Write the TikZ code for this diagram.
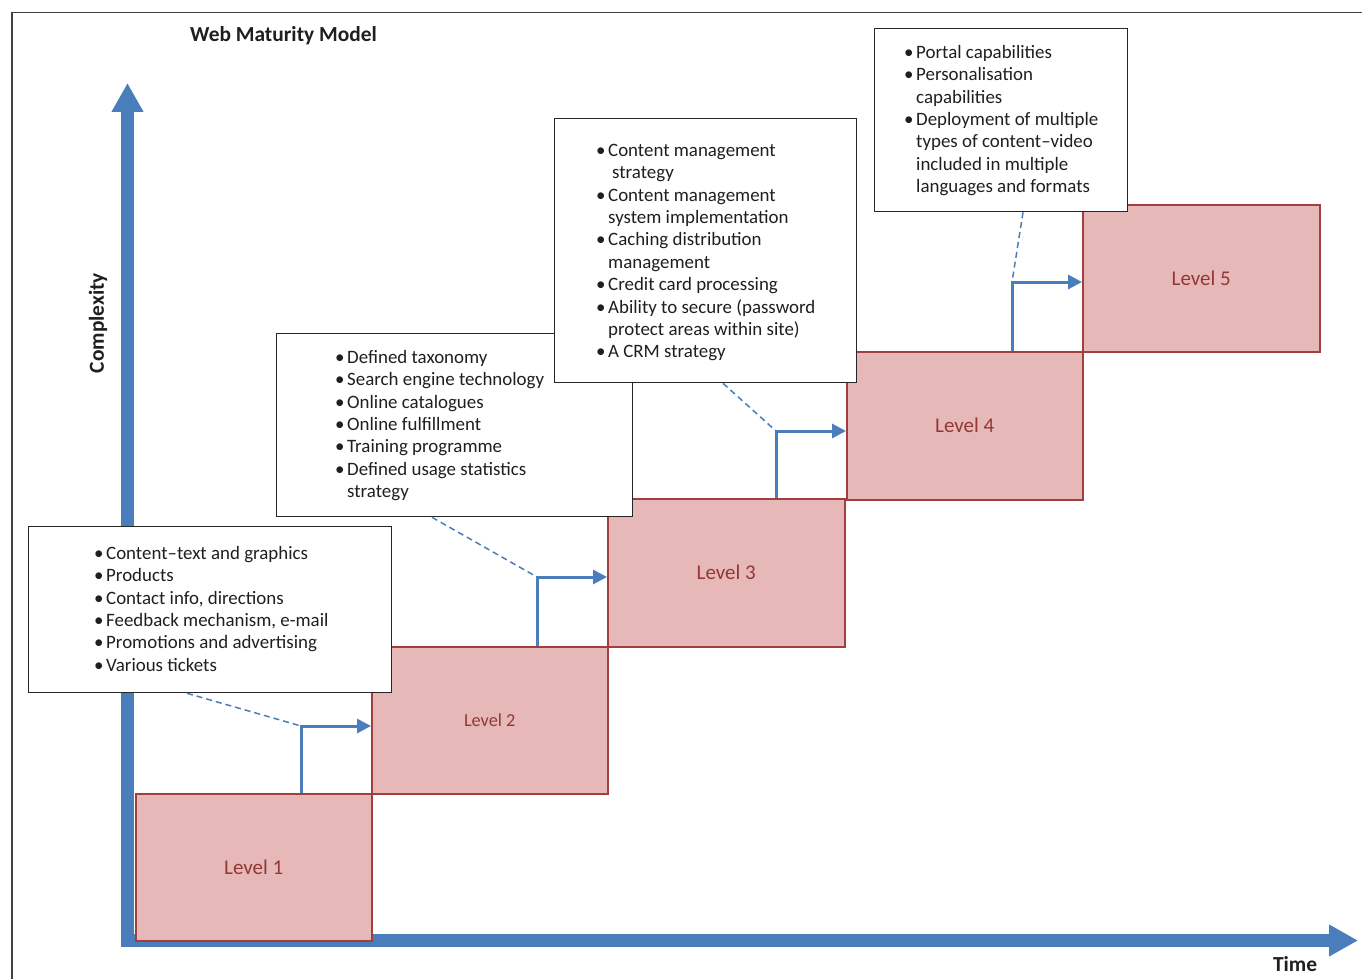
\documentclass[tikz,border=0pt]{standalone}
\usepackage{fontspec}
\setmainfont{Carlito}
\usetikzlibrary{arrows.meta,calc}
\definecolor{axisblue}{HTML}{4A7EBB}
\definecolor{lvlfill}{HTML}{E6B9B8}
\definecolor{lvldraw}{HTML}{A03F3D}
\definecolor{lvltext}{HTML}{953735}
\definecolor{txtcol}{HTML}{1F1F1F}
\newcommand{\bitem}[1]{\makebox[12pt][l]{\textbullet}#1}
\newcommand{\bcont}[1]{\hspace*{12pt}#1}
\begin{document}
\begin{tikzpicture}[x=1pt,y=-1pt,
  frameline/.style={draw=black!75, line width=1.5pt},
  axis/.style={draw=axisblue, line width=13pt, -{Triangle[length=29pt,width=30pt,fill=axisblue]}},
  level/.style={draw=lvldraw, fill=lvlfill, line width=1.5pt, inner sep=0pt, anchor=north west,
    text=lvltext, font=\fontsize{21}{25}\selectfont},
  infobox/.style={draw=black!85, fill=white, line width=1.3pt, inner sep=0pt, anchor=north west},
  bullets/.style={align=left, inner sep=0pt, text=txtcol, font=\fontsize{18.9}{22.4}\selectfont, anchor=north west},
  elbow/.style={draw=axisblue, line width=3pt, -{Triangle[length=14pt,width=14pt,fill=axisblue]}},
  leader/.style={draw=axisblue, line width=1.5pt, dash pattern=on 6pt off 4pt},
  axislabel/.style={text=txtcol, font=\bfseries\fontsize{21.4}{25}\selectfont, inner sep=0pt}
]
\useasboundingbox (0,0) rectangle (1362,979);
\fill[white] (0,0) rectangle (1362,979);
% frame
\draw[frameline] (12,979) -- (12,12.5) -- (1362,12.5);
% axes
\coordinate (yfoot) at (127.5,947);
\coordinate (ytip) at (127.5,83);
\coordinate (xfoot) at (121,940.5);
\coordinate (xtip) at (1358,940.5);
\draw[axis] (yfoot) -- (ytip);
\draw[axis] (xfoot) -- (xtip);
% titles
\node[axislabel] (title) at (283.5,36) {Web Maturity Model};
\node[axislabel, rotate=90] (ylab) at (98,323) {Complexity};
\node[axislabel] (xlab) at (1295,964) {Time};
% levels
\node[level, minimum width=236pt, minimum height=147pt] (l1) at (135,793) {Level 1};
\node[level, minimum width=236pt, minimum height=147pt, font=\fontsize{18.3}{22}\selectfont] (l2) at (371,646) {Level 2};
\node[level, minimum width=237pt, minimum height=148pt] (l3) at (607,498) {Level 3};
\node[level, minimum width=236pt, minimum height=148pt] (l4) at (846,351) {Level 4};
\node[level, minimum width=237pt, minimum height=147pt] (l5) at (1082,204) {Level 5};
% elbow arrows
\coordinate (c1) at (301,726);
\coordinate (c2) at (537,577);
\coordinate (c3) at (776,431);
\coordinate (c4) at (1012,282);
\draw[elbow] (c1 |- l1.north) -- (c1) -- (c1 -| l2.west);
\draw[elbow] (c2 |- l2.north) -- (c2) -- (c2 -| l3.west);
\draw[elbow] (c3 |- l3.north) -- (c3) -- (c3 -| l4.west);
\draw[elbow] (c4 |- l4.north) -- (c4) -- (c4 -| l5.west);
% info boxes
\node[infobox, minimum width=363pt, minimum height=166pt] (b1) at (28,526) {};
\node[infobox, minimum width=356pt, minimum height=183pt] (b2) at (276,333) {};
\node[infobox, minimum width=302pt, minimum height=264pt] (b3) at (554,118) {};
\node[infobox, minimum width=253pt, minimum height=183pt] (b4) at (874,28) {};
% leaders
\draw[leader] ($(b1.south west)+(159,0)$) -- (c1);
\draw[leader] ($(b2.south west)+(156,0)$) -- (c2);
\draw[leader] ($(b3.south west)+(169,0)$) -- (c3);
\draw[leader] ($(b4.south west)+(149,0)$) -- (c4);
% texts
\node[bullets] (t1) at (94,543.5) {\strut\bitem{Content–text and graphics}\\
\bitem{Products}\\
\bitem{Contact info, directions}\\
\bitem{Feedback mechanism, e-mail}\\
\bitem{Promotions and advertising}\\
\bitem{Various tickets}};
\node[bullets] (t2) at (335,347.5) {\strut\bitem{Defined taxonomy}\\
\bitem{Search engine technology}\\
\bitem{Online catalogues}\\
\bitem{Online fulfillment}\\
\bitem{Training programme}\\
\bitem{Defined usage statistics}\\
\bcont{strategy}};
\node[bullets] (t3) at (596,140.5) {\strut\bitem{Content management}\\
\bcont{\hspace*{4pt}strategy}\\
\bitem{Content management}\\
\bcont{system implementation}\\
\bitem{Caching distribution}\\
\bcont{management}\\
\bitem{Credit card processing}\\
\bitem{Ability to secure (password}\\
\bcont{protect areas within site)}\\
\bitem{A CRM strategy}};
\node[bullets] (t4) at (904,42.5) {\strut\bitem{Portal capabilities}\\
\bitem{Personalisation}\\
\bcont{capabilities}\\
\bitem{Deployment of multiple}\\
\bcont{types of content–video}\\
\bcont{included in multiple}\\
\bcont{languages and formats}};
\end{tikzpicture}
\end{document}
